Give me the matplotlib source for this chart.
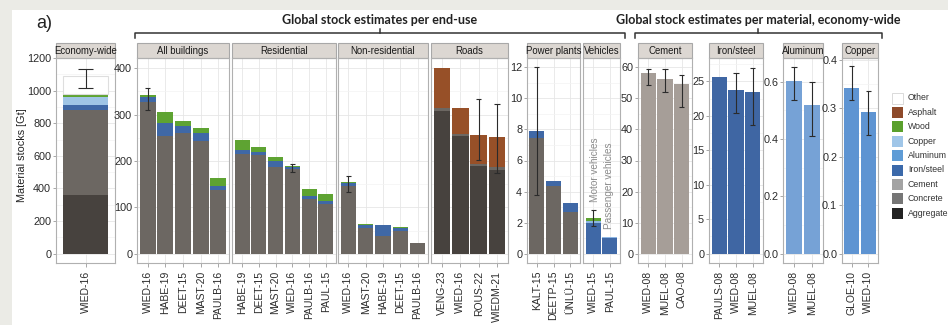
import numpy as np
import matplotlib
matplotlib.use("Agg")
import matplotlib.pyplot as plt
from matplotlib.patches import Rectangle
from matplotlib.lines import Line2D

plt.rcParams['font.family'] = ['Liberation Sans', 'DejaVu Sans']

# ---- data (Gt) ----
econ_labels = ["WIED-16"]
econ_stack = {"Aggregate": [359], "Concrete": [520], "Iron/steel": [30],
              "Wood": [18], "Copper": [52], "Other": [111]}
econ_err = ([1015], [1131])

allb_labels = ["WIED-16", "HABE-19", "DEET-15", "MAST-20", "PAULB-16"]
allb_stack = {"Concrete": [328, 253, 261, 242, 138],
              "Iron/steel": [9, 29, 14, 19, 8],
              "Wood": [5, 23, 11, 11, 17]}
allb_err = ([310, np.nan, np.nan, np.nan, np.nan], [357, np.nan, np.nan, np.nan, np.nan])

res_labels = ["HABE-19", "DEET-15", "MAST-20", "WIED-16", "PAULB-16", "PAUL-15"]
res_stack = {"Concrete": [214, 212, 188, 182, 118, 107],
             "Iron/steel": [9, 8, 13, 5, 7, 6],
             "Wood": [23, 11, 7, 3, 15, 16]}
res_err = ([np.nan, np.nan, np.nan, 177, np.nan, np.nan], [np.nan, np.nan, np.nan, 194, np.nan, np.nan])

nonres_labels = ["WIED-16", "MAST-20", "HABE-19", "DEET-15", "PAULB-16"]
nonres_stack = {"Concrete": [146, 55, 38, 50, 23],
                "Iron/steel": [7, 7, 23, 6, 0],
                "Wood": [2, 2, 1, 2, 0]}
nonres_err = ([133, np.nan, np.nan, np.nan, np.nan], [168, np.nan, np.nan, np.nan, np.nan])

roads_labels = ["VENG-23", "WIED-16", "ROUS-22", "WIEDM-21"]
roads_stack = {"Aggregate": [307, 253, 189, 180],
               "Concrete": [7, 5, 5, 6],
               "Asphalt": [86, 56, 62, 66]}
roads_err = ([np.nan, np.nan, 203, 173], [np.nan, np.nan, 333, 323])

pp_labels = ["KALT-15", "DEETP-15", "ÜNLÜ-15"]
pp_stack = {"Concrete": [7.48, 4.34, 2.66], "Iron/steel": [0.42, 0.32, 0.61]}
pp_err = ([3.8, np.nan, np.nan], [12.0, np.nan, np.nan])

veh_labels = ["WIED-15", "PAUL-15"]
veh_stack = {"Iron/steel": [1.98, 1.01], "Aluminum": [0.10, 0.09], "Wood": [0.20, 0.0]}
veh_err = ([1.76, np.nan], [2.8, np.nan])

cem_labels = ["WIED-08", "MUEL-08", "CAO-08"]
cem_vals = [58.1, 56.2, 54.7]
cem_err = ([54.4, 52.0, 47.2], [59.5, 59.5, 57.4])

iron_labels = ["PAULS-08", "WIED-08", "MUEL-08"]
iron_vals = [25.7, 23.8, 23.5]
iron_err = ([np.nan, 20.4, 18.7], [np.nan, 26.2, 27.0])

alu_labels = ["WIED-08", "MUEL-08"]
alu_vals = [0.602, 0.518]
alu_err = ([0.538, 0.41], [0.65, 0.60])

cu_labels = ["GLOE-10", "WIED-10"]
cu_vals = [0.342, 0.293]
cu_err = ([0.317, 0.246], [0.388, 0.336])

materials = ["Other", "Asphalt", "Wood", "Copper", "Aluminum",
             "Iron/steel", "Cement", "Concrete", "Aggregate"]
bar_colors = {"Other": "#ffffff", "Asphalt": "#975028", "Wood": "#5ea332",
              "Copper": "#9fc5e6", "Aluminum": "#8db6e2", "Iron/steel": "#3f68a6",
              "Cement": "#a69e98", "Concrete": "#6c6762", "Aggregate": "#47423e"}
legend_colors = {"Other": "#ffffff", "Asphalt": "#8e4a2a", "Wood": "#5aa02c",
                 "Copper": "#a0c6e8", "Aluminum": "#5f9cd6", "Iron/steel": "#3b69aa",
                 "Cement": "#a3a3a3", "Concrete": "#767676", "Aggregate": "#232323"}
stack_order = materials[::-1]

W, H = 948, 325
TOP, BOT = 58, 263

fig = plt.figure(figsize=(W / 100, H / 100), dpi=100, facecolor="#ebebe6")
fig.patches.append(Rectangle((12 / W, 0), 1, 1 - 10 / H, transform=fig.transFigure,
                             facecolor="white", edgecolor="none", zorder=-10))


def fx(x):
    return x / W


def fy(y):
    return 1 - y / H


def panel(x0, x1, title, labels, ylim, major, minor, show_y=True, fmt="{:g}"):
    ax = fig.add_axes([fx(x0), fy(BOT), (x1 - x0) / W, (BOT - TOP) / H])
    ax.set_zorder(1)
    n = len(labels)
    ax.set_xlim(-0.6, n - 0.4)
    ax.set_ylim(*ylim)
    ax.set_xticks(range(n))
    ax.set_xticklabels(labels, rotation=90, fontsize=7.5, color="#2b2b2b")
    ax.set_yticks(major)
    ax.set_yticks(minor, minor=True)
    if show_y:
        ax.set_yticklabels([fmt.format(v) for v in major], fontsize=7.8, color="#2b2b2b")
        ax.tick_params(axis="y", which="major", length=2.5, width=0.6, color="#999999", pad=1)
    else:
        ax.set_yticklabels([])
        ax.tick_params(axis="y", which="major", length=0)
    ax.tick_params(axis="y", which="minor", length=0)
    ax.tick_params(axis="x", length=3, width=0.6, color="#999999", pad=2.5)
    ax.grid(which="major", color="#e6e6e6", lw=0.6)
    ax.grid(which="minor", axis="y", color="#f3f3f3", lw=0.5)
    ax.set_axisbelow(True)
    for s in ax.spines.values():
        s.set_color("#b0b0b0")
        s.set_linewidth(0.8)
    strip_h = (TOP - 43) / (BOT - TOP)
    ax.add_patch(Rectangle((0, 1), 1, strip_h, transform=ax.transAxes, clip_on=False,
                           facecolor="#dcd7d2", edgecolor="#a8a8a8", lw=0.8))
    ax.text(0.5, 1 + strip_h / 2, title, transform=ax.transAxes, ha="center", va="center",
            fontsize=6.9, color="#1a1a1a", clip_on=False)
    return ax


def stacked(ax, stack):
    n = len(next(iter(stack.values())))
    bottom = np.zeros(n)
    for m in stack_order:
        if m not in stack:
            continue
        vals = np.array(stack[m], dtype=float)
        if m == "Other":
            ax.bar(range(n), vals, 0.9, bottom=bottom, color="white",
                   edgecolor="#dedede", lw=0.8, zorder=2)
        else:
            ax.bar(range(n), vals, 0.9, bottom=bottom, color=bar_colors[m], lw=0, zorder=2)
        bottom += vals


def errbars(ax, err, w=0.3):
    lo, hi = err
    for i, (a, b) in enumerate(zip(lo, hi)):
        if np.isnan(a):
            continue
        ax.vlines(i, a, b, color="#2b2b2b", lw=0.8, zorder=3)
        ax.hlines([a, b], i - w / 2, i + w / 2, color="#2b2b2b", lw=0.8, zorder=3)


# economy-wide
ax = panel(56, 115, "Economy-wide", econ_labels, (-57, 1200),
           np.arange(0, 1201, 200), np.arange(100, 1200, 200))
stacked(ax, econ_stack)
errbars(ax, econ_err)
fig.text(fx(22), fy(155), "Material stocks [Gt]", rotation=90, ha="center", va="center",
         fontsize=7.8, color="#222222")

# end-use panels sharing the building scale
bld_lim = (-20, 422)
bld_major = np.arange(0, 401, 100)
bld_minor = np.arange(50, 422, 100)
for (x0, x1, title, labels, stack, err, show) in [
        (137, 229, "All buildings", allb_labels, allb_stack, allb_err, True),
        (232, 336, "Residential", res_labels, res_stack, res_err, False),
        (338, 428, "Non-residential", nonres_labels, nonres_stack, nonres_err, False),
        (431, 508, "Roads", roads_labels, roads_stack, roads_err, False)]:
    ax = panel(x0, x1, title, labels, bld_lim, bld_major, bld_minor, show_y=show)
    stacked(ax, stack)
    errbars(ax, err)

pp_lim = (-0.6, 12.6)
ax = panel(527, 580, "Power plants", pp_labels, pp_lim, np.arange(0, 13, 2), np.arange(1, 13, 2))
stacked(ax, pp_stack)
errbars(ax, pp_err)

ax = panel(583, 620, "Vehicles", veh_labels, pp_lim, np.arange(0, 13, 2), np.arange(1, 13, 2),
           show_y=False)
stacked(ax, veh_stack)
errbars(ax, veh_err)
ax.text((595 - 583) / 37, (BOT - 170) / (BOT - TOP), "Motor vehicles", transform=ax.transAxes,
        rotation=90, ha="center", va="center", fontsize=7.2, color="#8c8c8c")
ax.text((609 - 583) / 37, (BOT - 186) / (BOT - TOP), "Passenger vehicles", transform=ax.transAxes,
        rotation=90, ha="center", va="center", fontsize=7.2, color="#8c8c8c")

# material panels, economy-wide
for (x0, x1, title, labels, vals, err, lim, major, minor, color) in [
        (638, 692, "Cement", cem_labels, cem_vals, cem_err, (-3, 63),
         np.arange(0, 61, 10), np.arange(5, 63, 10), "#a69e98"),
        (709, 763, "Iron/steel", iron_labels, iron_vals, iron_err, (-1.35, 28.4),
         np.arange(0, 26, 5), np.arange(2.5, 28.4, 5), "#3f66a3"),
        (783, 823, "Aluminum", alu_labels, alu_vals, alu_err, (-0.0325, 0.683),
         np.arange(0, 0.61, 0.2), np.arange(0.1, 0.68, 0.2), "#76a2d6"),
        (842, 878, "Copper", cu_labels, cu_vals, cu_err, (-0.019, 0.404),
         np.arange(0, 0.41, 0.1), np.arange(0.05, 0.404, 0.1), "#5e94d2")]:
    fmt = "{:g}" if lim[1] > 5 else "{:.1f}"
    ax = panel(x0, x1, title, labels, lim, major, minor, fmt=fmt)
    ax.bar(range(len(vals)), vals, 0.9, color=color, lw=0, zorder=2)
    errbars(ax, err)

# legend
for i, m in enumerate(materials):
    yc = 98 + i * 14.4
    fig.patches.append(Rectangle((fx(892), fy(yc + 5.5)), 11 / W, 11 / H,
                                 transform=fig.transFigure, facecolor=legend_colors[m],
                                 edgecolor="#d5d5d5" if m == "Other" else "none", lw=0.6))
    fig.text(fx(908), fy(yc), m, fontsize=6.3, color="#333333", va="center", ha="left")

# group brackets
def bracket(x0, x1, xm, title):
    y = 33
    fig.add_artist(Line2D([fx(x0), fx(x0), fx(x1), fx(x1)], [fy(38), fy(y), fy(y), fy(38)],
                          transform=fig.transFigure, color="#333333", lw=1.1))
    fig.add_artist(Line2D([fx(xm), fx(xm)], [fy(y), fy(29)], transform=fig.transFigure,
                          color="#333333", lw=1.1))
    fig.text(fx(xm), fy(20), title, ha="center", va="center", fontsize=9,
             fontweight="bold", family=["Lato", "DejaVu Sans"], color="#222222")


bracket(135, 625, 380, "Global stock estimates per end-use")
bracket(635, 882, 758, "Global stock estimates per material, economy-wide")

fig.text(fx(44), fy(24), "a)", ha="center", va="center", fontsize=13, color="#222222")

fig.savefig("out.png", dpi=100, facecolor=fig.get_facecolor())
